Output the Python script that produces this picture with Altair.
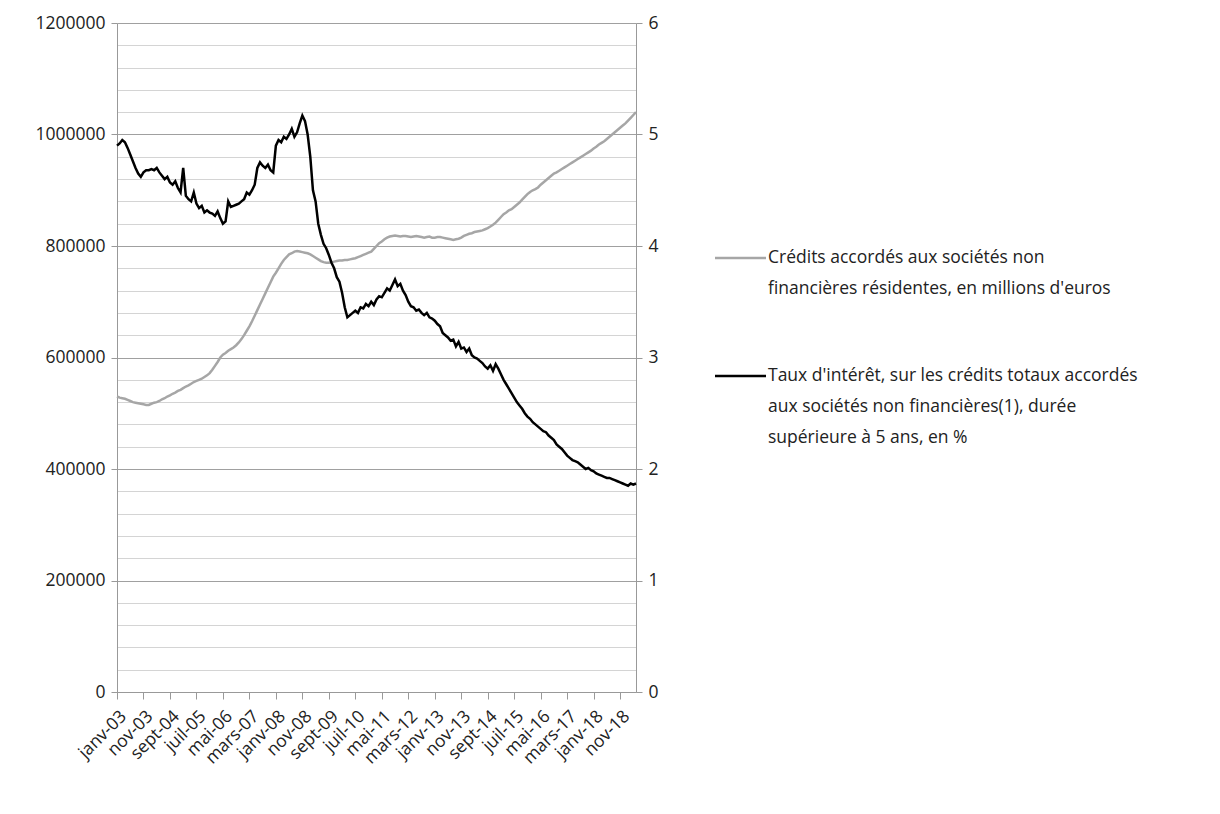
import altair as alt
import pandas as pd

# monthly, janv-03 .. mai-19
credits_k = [
    530, 528, 527, 526, 524, 522, 520, 519, 518, 517, 516, 515,
    515, 517, 519, 520, 522, 525, 527, 530, 532, 535, 537, 540,
    542, 545, 548, 550, 553, 556, 558, 560, 562, 565, 568, 572,
    578, 585, 592, 600, 605, 608, 612, 615, 618, 622, 627, 633,
    640, 648, 656, 665, 675, 685, 695, 705, 715, 725, 735, 745,
    752, 760, 768, 775, 780, 785, 787, 790, 791, 790, 789, 788,
    787, 785, 782, 779, 776, 773, 771, 770, 770, 771, 772, 773,
    774, 774, 775, 775, 776, 777, 778, 780, 782, 784, 786, 788,
    790, 795, 800, 805, 808, 812, 815, 817, 818, 819, 818, 817,
    818, 818, 817, 816, 817, 818, 817, 816, 815, 816, 817, 815,
    815, 816, 816, 815, 814, 813, 812, 811, 812, 813, 815, 818,
    820, 822, 823, 825, 826, 827, 828, 830, 832, 835, 838, 842,
    847, 852, 857, 860, 864, 866, 870, 874, 878, 883, 888, 893,
    897, 900, 902, 905, 910, 914, 918, 922, 926, 930, 932, 935,
    938, 941, 944, 947, 950, 953, 956, 959, 962, 965, 968, 971,
    975, 978, 982, 985, 988, 992, 996, 1000, 1004, 1008, 1012, 1016,
    1020, 1025, 1030, 1035, 1040,
]
rates = [
    4.90, 4.92, 4.95, 4.93, 4.88, 4.82, 4.76, 4.70, 4.65, 4.62, 4.66, 4.68,
    4.68, 4.69, 4.68, 4.70, 4.66, 4.63, 4.60, 4.62, 4.57, 4.55, 4.58, 4.52,
    4.48, 4.70, 4.45, 4.42, 4.40, 4.48, 4.38, 4.34, 4.36, 4.30, 4.32, 4.30,
    4.29, 4.27, 4.31, 4.25, 4.20, 4.22, 4.40, 4.35, 4.36, 4.37, 4.38, 4.40,
    4.42, 4.48, 4.46, 4.50, 4.55, 4.70, 4.75, 4.72, 4.70, 4.73, 4.68, 4.66,
    4.90, 4.95, 4.93, 4.98, 4.96, 5.00, 5.05, 4.98, 5.02, 5.10, 5.17, 5.12,
    5.00, 4.80, 4.50, 4.40, 4.20, 4.10, 4.02, 3.98, 3.92, 3.85, 3.80, 3.72,
    3.68, 3.58, 3.45, 3.36, 3.38, 3.40, 3.42, 3.40, 3.45, 3.44, 3.48, 3.46,
    3.50, 3.47, 3.52, 3.55, 3.54, 3.58, 3.62, 3.60, 3.65, 3.70, 3.64, 3.66,
    3.60, 3.56, 3.50, 3.46, 3.45, 3.42, 3.43, 3.40, 3.38, 3.40, 3.36, 3.35,
    3.33, 3.30, 3.28, 3.22, 3.20, 3.18, 3.15, 3.16, 3.10, 3.14, 3.08, 3.09,
    3.05, 3.08, 3.02, 3.00, 2.99, 2.97, 2.95, 2.92, 2.90, 2.93, 2.88, 2.94,
    2.90, 2.85, 2.80, 2.76, 2.72, 2.68, 2.64, 2.60, 2.57, 2.54, 2.50, 2.47,
    2.45, 2.42, 2.40, 2.38, 2.36, 2.34, 2.33, 2.30, 2.28, 2.26, 2.22, 2.20,
    2.18, 2.15, 2.12, 2.10, 2.08, 2.07, 2.06, 2.04, 2.02, 2.00, 2.01, 1.99,
    1.98, 1.96, 1.95, 1.94, 1.93, 1.92, 1.92, 1.91, 1.90, 1.89, 1.88, 1.87,
    1.86, 1.85, 1.87, 1.86, 1.87,
]
tick_labels = ["janv-03", "nov-03", "sept-04", "juil-05", "mai-06", "mars-07", "janv-08",
               "nov-08", "sept-09", "juil-10", "mai-11", "mars-12", "janv-13", "nov-13",
               "sept-14", "juil-15", "mai-16", "mars-17", "janv-18", "nov-18"]
legend_credits = ["Crédits accordés aux sociétés non", "financières résidentes, en millions d'euros"]
legend_rates = ["Taux d'intérêt, sur les crédits totaux accordés",
                "aux sociétés non financières(1), durée", "supérieure à 5 ans, en %"]

df = pd.DataFrame({
    "i": range(len(rates)),
    "credits": [c * 1000 for c in credits_k],
    "rate": rates,
})

FONT = "Open Sans"
FS = 17.5
label_arr = "[" + ",".join(f"'{t}'" for t in tick_labels) + "]"

x = alt.X("i:Q", scale=alt.Scale(domain=[0, 196], nice=False),
          axis=alt.Axis(title=None, values=list(range(0, 191, 10)),
                        labelExpr=f"{label_arr}[round(datum.value/10)]",
                        labelAngle=-45, labelAlign="right", labelBaseline="top",
                        labelOverlap=False,
                        grid=False, domainColor="#999", tickColor="#999", tickSize=7,
                        labelFont=FONT, labelFontSize=FS, labelColor="#222", labelPadding=8))

gray = alt.Chart(df).mark_line(color="#a6a6a6", strokeWidth=2.5).encode(
    x=x,
    y=alt.Y("credits:Q", scale=alt.Scale(domain=[0, 1200000]),
            axis=alt.Axis(title=None, values=list(range(0, 1200001, 40000)),
                          labelExpr="datum.value % 200000 === 0 ? datum.value : ''",
                          gridColor={"condition": {"test": "datum.value % 200000 === 0", "value": "#a0a0a0"}, "value": "#d4d4d4"},
                          tickColor={"condition": {"test": "datum.value % 200000 === 0", "value": "#999"}, "value": "transparent"},
                          domainColor="#999", tickSize=6, labelFont=FONT, labelFontSize=FS,
                          labelColor="#222", labelPadding=6)),
)
black = alt.Chart(df).mark_line(color="black", strokeWidth=2.5).encode(
    x=x,
    y=alt.Y("rate:Q", scale=alt.Scale(domain=[0, 6]),
            axis=alt.Axis(title=None, orient="right", values=list(range(7)), grid=False,
                          domainColor="#999", tickColor="#999", tickSize=6,
                          labelFont=FONT, labelFontSize=FS, labelColor="#222", labelPadding=6)),
)

one = pd.DataFrame({"a": [0]})
legend_layers = []
for color, lines, y0 in [("#a6a6a6", legend_credits, 235), ("black", legend_rates, 353)]:
    legend_layers.append(alt.Chart(one).mark_rule(color=color, strokeWidth=2.5).encode(
        x=alt.value(598), x2=alt.value(649), y=alt.value(y0)))
    for k, t in enumerate(lines):
        legend_layers.append(alt.Chart(pd.DataFrame({"t": [t]})).mark_text(
            align="left", baseline="middle", font=FONT, fontSize=FS, color="#222").encode(
            x=alt.value(651), y=alt.value(y0 + 31 * k), text="t:N"))

chart = alt.layer(gray, black, *legend_layers).resolve_scale(y="independent").properties(
    width=519, height=669,
    autosize=alt.AutoSizeParams(type="none"),
    padding={"left": 109, "top": 15, "right": 576, "bottom": 114},
).configure_view(stroke=None)

chart.save("out.html", embed_options={"renderer": "svg", "actions": False})
